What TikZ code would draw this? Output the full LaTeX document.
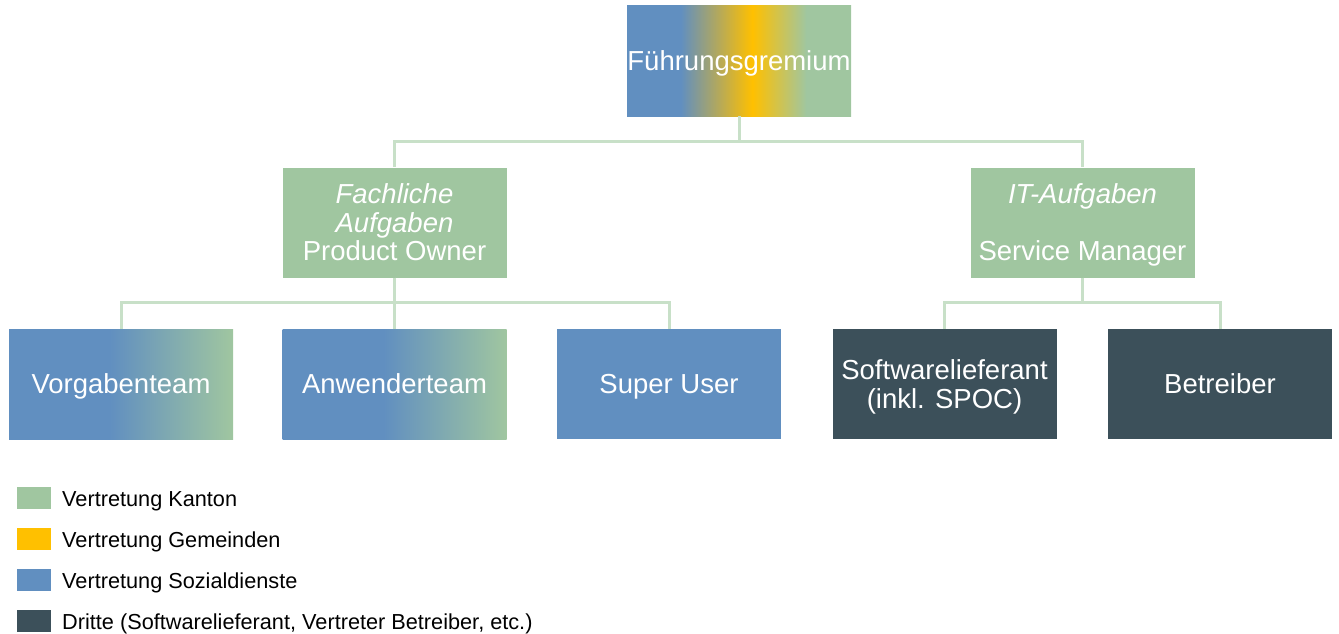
\documentclass[tikz,border=0pt]{standalone}
\usepackage{fontspec}
\setmainfont{Liberation Sans}
\usepackage{tikz}
\usetikzlibrary{shapes,arrows,fit, positioning, arrows.meta}
\usetikzlibrary{backgrounds}

\definecolor{kanton}{RGB}{160,198,160}
\definecolor{gemeinden}{RGB}{255,192,0}
\definecolor{sozial}{RGB}{97,143,192}
\definecolor{dritte}{RGB}{60,80,90}
\definecolor{linegreen}{RGB}{200,224,200}

% horizontal blends, box spans 25bp..75bp
\pgfdeclarehorizontalshading{blendall}{100bp}{color(0bp)=(sozial); color(37bp)=(sozial); color(53bp)=(gemeinden); color(65bp)=(kanton); color(100bp)=(kanton)}
\pgfdeclarehorizontalshading{blendteam}{100bp}{color(0bp)=(sozial); color(47.5bp)=(sozial); color(75bp)=(kanton); color(100bp)=(kanton)}

% one text line, cap height only
\newcommand{\capln}[1]{\raisebox{0pt}[19.7pt][0pt]{#1}}

\tikzset{
  orgbox/.style={rectangle, minimum width=224, minimum height=110, inner sep=0pt, align=center, text=white, font=\fontsize{27.5}{28.5}\selectfont},
  conn/.style={draw=linegreen, line width=3pt},
  legbox/.style={rectangle, minimum width=34, minimum height=22, inner sep=0pt},
  legtext/.style={anchor=west, inner sep=0pt, text height=15.5pt, text depth=0pt, font=\fontsize{21.7}{24}\selectfont}
}

\begin{document}
\begin{tikzpicture}[x=1pt,y=1pt,yscale=-1,xscale=1]
\useasboundingbox (0,0) rectangle (1339,634);

% Top
\node [orgbox, shading=blendall] (fuehrung) at (739,61) {\capln{F\"uhrungsgremium}};
% Second row
\node [orgbox, fill=kanton] (fachlich) at (394.5,222.5) {\capln{\textit{Fachliche}}\\\capln{\textit{Aufgaben}}\\\capln{Product Owner}};
\node [orgbox, fill=kanton] (itaufg) at (1082.5,222.5) {\capln{\textit{IT-Aufgaben}}\\\capln{~}\\\capln{Service Manager}};
% Third row
\node [orgbox, shading=blendteam] (vorgaben) at (121,384) {\capln{Vorgabenteam}};
\node [orgbox, shading=blendteam] (anwender) at (394.5,384) {\capln{Anwenderteam}};
\node [orgbox, fill=sozial] (superuser) at (669,384) {\capln{Super User}};
\node [orgbox, fill=dritte] (softlief) at (944.5,384) {\capln{Softwarelieferant}\\\capln{(inkl. SPOC)}};
\node [orgbox, fill=dritte] (betreiber) at (1220,384) {\capln{Betreiber}};

% Connectors
\draw [conn] (fuehrung.south) -- +(0,25) -| (fachlich.north);
\draw [conn] (fuehrung.south) -- +(0,25) -| (itaufg.north);
\draw [conn] (fachlich.south) -- +(0,25) -| (vorgaben.north);
\draw [conn] (fachlich.south) -- (anwender.north);
\draw [conn] (fachlich.south) -- +(0,25) -| (superuser.north);
\draw [conn] (itaufg.south) -- +(0,25) -| (softlief.north);
\draw [conn] (itaufg.south) -- +(0,25) -| (betreiber.north);

% Legend
\node [legbox, fill=kanton] (legkanton) at (34,497.5) {};
\node [legbox, fill=gemeinden] (leggemeinden) at (34,539) {};
\node [legbox, fill=sozial] (legsozial) at (34,580) {};
\node [legbox, fill=dritte] (legdritte) at (34,621) {};
\node [legtext] at (62,498.5) {Vertretung Kanton};
\node [legtext] at (62,540) {Vertretung Gemeinden};
\node [legtext] at (62,581) {Vertretung Sozialdienste};
\node [legtext] at (62,622) {Dritte (Softwarelieferant, Vertreter Betreiber, etc.)};
\end{tikzpicture}
\end{document}
